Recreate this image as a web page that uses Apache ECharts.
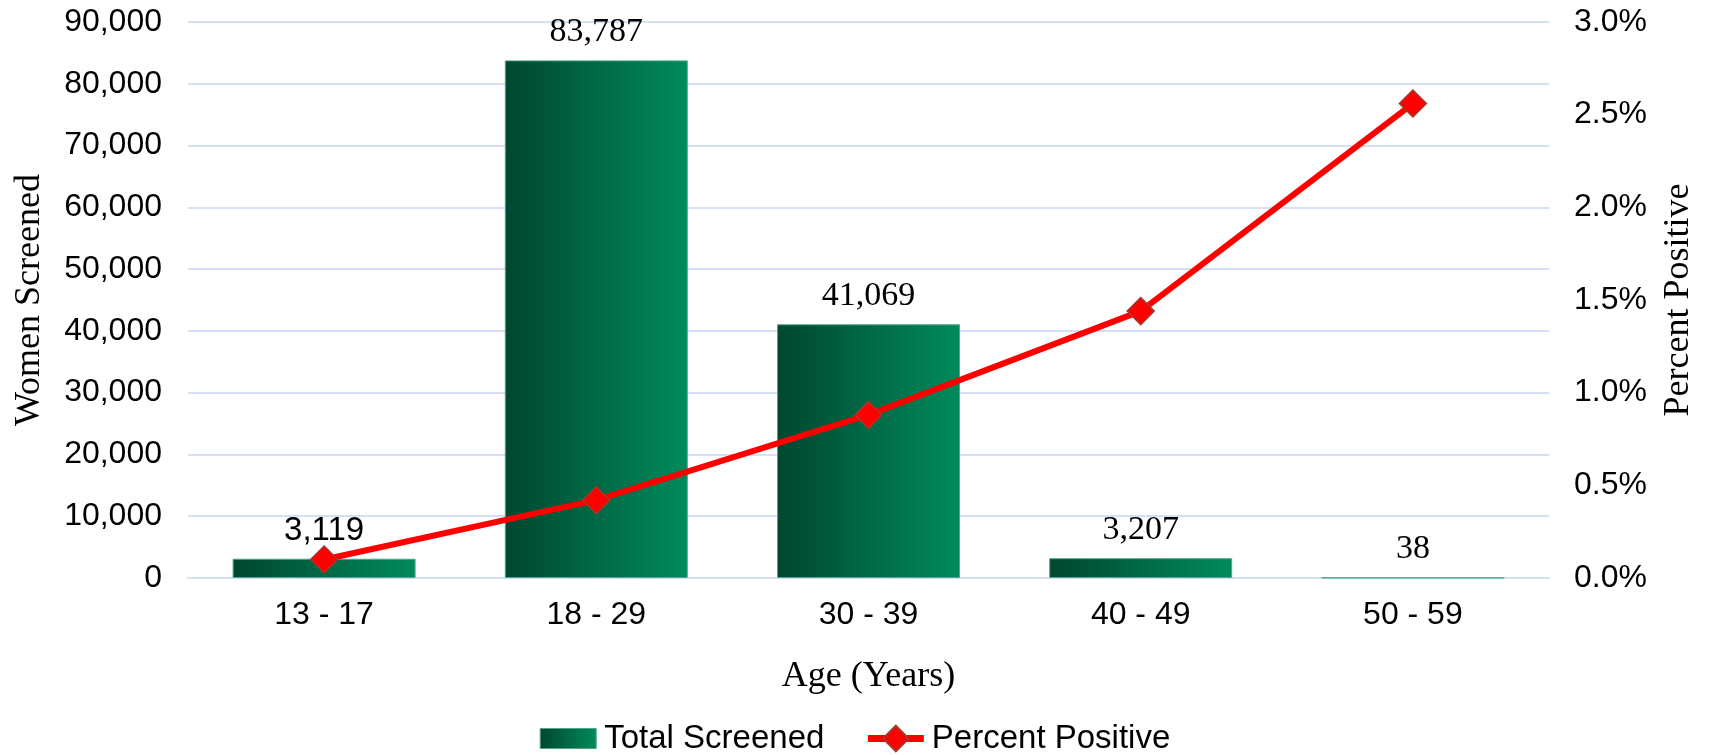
<!DOCTYPE html>
<html>
<head>
<meta charset="utf-8">
<script src="https://cdn.jsdelivr.net/npm/echarts@6/dist/echarts.min.js"></script>
<style>
  html, body { margin: 0; padding: 0; background: #fff; }
  #chart { width: 1710px; height: 755px; }
</style>
</head>
<body>
<div id="chart"></div>
<script>
// Age groups of women screened
const categories = ['13 - 17', '18 - 29', '30 - 39', '40 - 49', '50 - 59'];
// Total screened per age group
const totalScreened = [3119, 83787, 41069, 3207, 38];
// Percent positive per age group (%)
const percentPositive = [0.10, 0.42, 0.88, 1.44, 2.56];

const SANS = '"Liberation Sans", Arial, sans-serif';
const SERIF = '"Liberation Serif", "Times New Roman", serif';
const GRID_COLOR = '#d6e0f4';

const barGradient = new echarts.graphic.LinearGradient(0, 0, 1, 0, [
  { offset: 0, color: '#00472f' },
  { offset: 1, color: '#008a5c' }
]);

const chart = echarts.init(document.getElementById('chart'), null, { renderer: 'canvas' });

chart.setOption({
  animation: false,
  backgroundColor: '#fff',
  grid: { left: 188, right: 161, top: 22, bottom: 177, containLabel: false },
  legend: {
    top: 717,
    left: 'center',
    itemGap: 40,
    itemWidth: 56,
    itemHeight: 32,
    textStyle: { fontFamily: SANS, fontSize: 33, color: '#000', padding: [0, 0, 0, 3] },
    data: [
      // flat bar swatch kept at its own aspect inside the taller legend slot
      { name: 'Total Screened', icon: 'path://M0,0H56V20H0Z', itemStyle: { borderColor: '#4fa58f', borderWidth: 1 } },
      { name: 'Percent Positive', lineStyle: { width: 7, color: '#ff0000' } }
    ]
  },
  xAxis: {
    type: 'category',
    data: categories,
    name: 'Age (Years)',
    nameLocation: 'middle',
    nameGap: 81,
    nameTextStyle: { fontFamily: SERIF, fontSize: 36, color: '#000', verticalAlign: 'top' },
    axisTick: { show: false },
    axisLine: { show: true, lineStyle: { color: GRID_COLOR, width: 2 } },
    axisLabel: { fontFamily: SANS, fontSize: 32, color: '#000', margin: 21 }
  },
  yAxis: [
    {
      type: 'value',
      min: 0,
      max: 90000,
      interval: 10000,
      name: 'Women Screened',
      nameLocation: 'middle',
      nameRotate: 90,
      nameGap: 140,
      nameTextStyle: { fontFamily: SERIF, fontSize: 36, color: '#000' },
      axisLine: { show: false },
      axisTick: { show: false },
      splitLine: { lineStyle: { color: GRID_COLOR, width: 2 } },
      axisLabel: {
        fontFamily: SANS, fontSize: 32, color: '#000', margin: 26,
        formatter: v => v.toLocaleString('en-US')
      }
    },
    {
      type: 'value',
      min: 0,
      max: 3,
      interval: 0.5,
      name: 'Percent Positive',
      nameLocation: 'middle',
      nameRotate: 90,
      nameGap: 112,
      nameTextStyle: { fontFamily: SERIF, fontSize: 36, color: '#000' },
      axisLine: { show: false },
      axisTick: { show: false },
      splitLine: { show: false },
      axisLabel: {
        fontFamily: SANS, fontSize: 32, color: '#000', margin: 25,
        formatter: v => v.toFixed(1) + '%'
      }
    }
  ],
  series: [
    {
      name: 'Total Screened',
      type: 'bar',
      yAxisIndex: 0,
      barWidth: 183,
      itemStyle: { color: barGradient, borderColor: '#4fa58f', borderWidth: 1 },
      label: {
        show: true,
        position: 'top',
        distance: 11,
        fontFamily: SERIF,
        fontSize: 34,
        color: '#000',
        formatter: p => p.value.toLocaleString('en-US')
      },
      // the smallest-group label is set in the sans face
      data: totalScreened.map((v, i) => i === 0
        ? { value: v, label: { fontFamily: SANS, fontSize: 33 } }
        : v),
      z: 2
    },
    {
      name: 'Percent Positive',
      type: 'line',
      yAxisIndex: 1,
      data: percentPositive,
      symbol: 'diamond',
      symbolSize: 27,
      lineStyle: { color: '#ff0000', width: 6 },
      itemStyle: { color: '#ff0000', borderColor: '#a3392a', borderWidth: 1.5 },
      z: 3
    }
  ]
});
</script>
</body>
</html>
